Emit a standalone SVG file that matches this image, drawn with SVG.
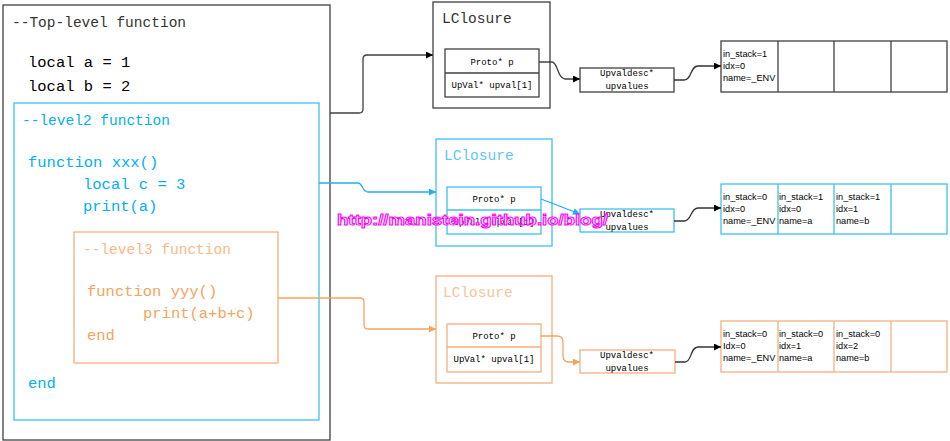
<svg xmlns="http://www.w3.org/2000/svg" width="950" height="441" viewBox="0 0 950 441">
<style>
.code{font-family:"Liberation Mono","DejaVu Sans Mono",monospace;}
.cmt{font-size:14.5px;}
.big{font-size:15.5px;}
.sm{font-size:9px;text-anchor:middle;fill:#000;}
.tb{font-family:"Liberation Sans",Arial,sans-serif;font-size:9.2px;fill:#000;}
.k{stroke:#404040;fill:none;stroke-width:1.3;}
.b{stroke:#3cc0f0;fill:none;stroke-width:1.3;}
.o{stroke:#f6b080;fill:none;stroke-width:1.3;}
.kt{fill:#000;}
.bt{fill:#00b0f0;}
.ot{fill:#f4a460;}
.line{fill:none;stroke-width:1.3;}
</style>
<defs>
<marker id="ak" viewBox="0 0 10 10" refX="10" refY="5" markerWidth="8" markerHeight="7" markerUnits="userSpaceOnUse" orient="auto"><path d="M0,0 L10,5 L0,10 z" fill="#000"/></marker>
<marker id="ab" viewBox="0 0 10 10" refX="10" refY="5" markerWidth="8" markerHeight="7" markerUnits="userSpaceOnUse" orient="auto"><path d="M0,0 L10,5 L0,10 z" fill="#20b0f0"/></marker>
<marker id="ao" viewBox="0 0 10 10" refX="10" refY="5" markerWidth="8" markerHeight="7" markerUnits="userSpaceOnUse" orient="auto"><path d="M0,0 L10,5 L0,10 z" fill="#f4a460"/></marker>
</defs>
<rect width="950" height="441" fill="#fff"/>

<g id="toplevel">
<rect x="3" y="5" width="327" height="435" class="k"/>
<text x="12" y="27" class="code cmt" fill="#333">--Top-level function</text>
<text x="28" y="67" class="code big kt">local a = 1</text>
<text x="28" y="91" class="code big kt">local b = 2</text>
</g>

<g id="level2">
<rect x="14" y="103" width="305" height="317" class="b"/>
<text x="22" y="125" class="code cmt bt">--level2 function</text>
<text x="28" y="167" class="code big bt">function xxx()</text>
<text x="83" y="189" class="code big bt">local c = 3</text>
<text x="83" y="211" class="code big bt">print(a)</text>
<text x="28" y="388" class="code big bt">end</text>
</g>

<g id="level3">
<rect x="74" y="232" width="204" height="131" class="o"/>
<text x="83" y="254" class="code cmt" fill="#f8b98a">--level3 function</text>
<text x="87" y="296" class="code big ot">function yyy()</text>
<text x="143" y="318" class="code big ot">print(a+b+c)</text>
<text x="87" y="340" class="code big ot">end</text>
</g>

<g id="lclosure1">
<rect x="433" y="2" width="117" height="106" class="k"/>
<text x="442" y="23" class="code cmt" fill="#333">LClosure</text>
<rect x="445" y="49" width="94" height="48" class="k"/>
<line x1="445" y1="73" x2="539" y2="73" class="k"/>
<text x="492" y="65" class="code sm">Proto* p</text>
<text x="492" y="88" class="code sm">UpVal* upval[1]</text>
</g>

<g id="upvaldesc1">
<rect x="580" y="68" width="94" height="24" class="k"/>
<text x="627" y="76" class="code sm">Upvaldesc*</text>
<text x="627" y="89" class="code sm">upvalues</text>
</g>

<g id="table1">
<rect x="721" y="41" width="226" height="51" class="k"/>
<line x1="778" y1="41" x2="778" y2="92" class="k"/>
<line x1="834" y1="41" x2="834" y2="92" class="k"/>
<line x1="891" y1="41" x2="891" y2="92" class="k"/>
<text x="723" y="57" class="tb">in_stack=1</text>
<text x="723" y="69" class="tb">idx=0</text>
<text x="723" y="81" class="tb">name=_ENV</text>
</g>

<g id="lclosure2">
<rect x="436" y="139" width="116" height="107" class="b"/>
<text x="444" y="160" class="code cmt" fill="#5cc8f0">LClosure</text>
<rect x="447" y="187" width="94" height="47" class="b"/>
<line x1="447" y1="210" x2="541" y2="210" class="b"/>
<text x="494" y="202" class="code sm">Proto* p</text>
<text x="494" y="225" class="code sm">UpVal* upval[1]</text>
</g>

<g id="upvaldesc2">
<rect x="580" y="209" width="94" height="23" class="b"/>
<text x="627" y="217" class="code sm">Upvaldesc*</text>
<text x="627" y="230" class="code sm">upvalues</text>
</g>

<g id="table2">
<rect x="721" y="184" width="226" height="50" class="b"/>
<line x1="778" y1="184" x2="778" y2="234" class="b"/>
<line x1="834" y1="184" x2="834" y2="234" class="b"/>
<line x1="891" y1="184" x2="891" y2="234" class="b"/>
<text x="723" y="200" class="tb">in_stack=0</text>
<text x="723" y="212" class="tb">idx=0</text>
<text x="723" y="224" class="tb">name=_ENV</text>
<text x="779" y="200" class="tb">in_stack=1</text>
<text x="779" y="212" class="tb">idx=0</text>
<text x="779" y="224" class="tb">name=a</text>
<text x="836" y="200" class="tb">in_stack=1</text>
<text x="836" y="212" class="tb">idx=1</text>
<text x="836" y="224" class="tb">name=b</text>
</g>

<g id="lclosure3">
<rect x="436" y="276" width="116" height="107" class="o"/>
<text x="443" y="297" class="code cmt" fill="#f8c39a">LClosure</text>
<rect x="447" y="324" width="94" height="48" class="o"/>
<line x1="447" y1="347" x2="541" y2="347" class="o"/>
<text x="494" y="339" class="code sm">Proto* p</text>
<text x="494" y="362" class="code sm">UpVal* upval[1]</text>
</g>

<g id="upvaldesc3">
<rect x="580" y="350" width="95" height="23" class="o"/>
<text x="627" y="358" class="code sm">Upvaldesc*</text>
<text x="627" y="371" class="code sm">upvalues</text>
</g>

<g id="table3">
<rect x="721" y="321" width="226" height="51" class="o"/>
<line x1="778" y1="321" x2="778" y2="372" class="o"/>
<line x1="834" y1="321" x2="834" y2="372" class="o"/>
<line x1="891" y1="321" x2="891" y2="372" class="o"/>
<text x="723" y="337" class="tb">in_stack=0</text>
<text x="723" y="349" class="tb">Idx=0</text>
<text x="723" y="361" class="tb">name=_ENV</text>
<text x="779" y="337" class="tb">in_stack=0</text>
<text x="779" y="349" class="tb">idx=1</text>
<text x="779" y="361" class="tb">name=a</text>
<text x="836" y="337" class="tb">in_stack=0</text>
<text x="836" y="349" class="tb">idx=2</text>
<text x="836" y="361" class="tb">name=b</text>
</g>

<g id="connectors">
<path d="M330,113 H359 Q363,113 363,109 V59 Q363,55 367,55 H433" class="line" stroke="#404040" marker-end="url(#ak)"/>
<path d="M539,62 H552 C558,62 557,79 566,79 H580" class="line" stroke="#404040" marker-end="url(#ak)"/>
<path d="M674,80 H684 C692,80 690,66 698,66 H721" class="line" stroke="#333" marker-end="url(#ak)"/>
<path d="M319,183 H358 C363,183 362,192 368,192 H436" class="line" stroke="#20b0f0" marker-end="url(#ab)"/>
<path d="M541,199 L580,214" class="line" stroke="#20b0f0" marker-end="url(#ab)"/>
<path d="M674,221 H684 C692,221 690,208 698,208 H721" class="line" stroke="#333" marker-end="url(#ak)"/>
<path d="M278,298 H360 Q364,298 364,302 V325 Q364,329 368,329 H436" class="line" stroke="#f4a460" marker-end="url(#ao)"/>
<path d="M541,336 H557 Q563,336 563,342 V356 Q563,362 569,362 H580" class="line" stroke="#f4a460" marker-end="url(#ao)"/>
<path d="M675,362 H685 C692,362 690,347 698,347 H721" class="line" stroke="#333" marker-end="url(#ak)"/>
</g>

<text x="337" y="225" font-family="Liberation Sans,Arial,sans-serif" font-weight="bold" font-size="15" textLength="271" lengthAdjust="spacingAndGlyphs" fill="#fff" stroke="#ff00ff" stroke-width="1">http://manistein.github.io/blog/</text>
</svg>
